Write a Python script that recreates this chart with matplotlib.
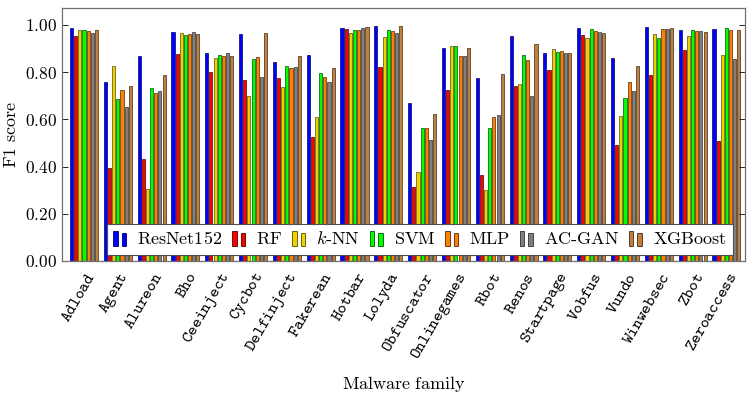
import numpy as np
import matplotlib
matplotlib.use('Agg')
import matplotlib.pyplot as plt
from matplotlib.patches import Rectangle
from matplotlib.legend_handler import HandlerBase
from matplotlib.ticker import FuncFormatter, MultipleLocator

plt.rcParams['mathtext.fontset'] = 'cm'
plt.rcParams['font.family'] = ['DejaVu Serif']

families = ['Adload', 'Agent', 'Alureon', 'Bho', 'Ceeinject', 'Cycbot', 'Delfinject',
            'Fakerean', 'Hotbar', 'Lolyda', 'Obfuscator', 'Onlinegames', 'Rbot', 'Renos',
            'Startpage', 'Vobfus', 'Vundo', 'Winwebsec', 'Zbot', 'Zeroaccess']

resnet = [0.985, 0.760, 0.869, 0.969, 0.880, 0.963, 0.843, 0.874, 0.985, 0.996,
          0.668, 0.904, 0.774, 0.952, 0.883, 0.987, 0.859, 0.992, 0.979, 0.983]
rf = [0.953, 0.393, 0.434, 0.877, 0.801, 0.767, 0.773, 0.525, 0.983, 0.821,
      0.314, 0.725, 0.363, 0.743, 0.809, 0.959, 0.490, 0.788, 0.893, 0.507]
knn = [0.979, 0.828, 0.304, 0.967, 0.860, 0.699, 0.738, 0.612, 0.965, 0.950,
       0.376, 0.910, 0.300, 0.749, 0.898, 0.946, 0.614, 0.961, 0.952, 0.874]
svm = [0.979, 0.688, 0.734, 0.956, 0.871, 0.855, 0.828, 0.797, 0.980, 0.977,
       0.564, 0.910, 0.564, 0.873, 0.884, 0.982, 0.692, 0.944, 0.977, 0.986]
mlp = [0.975, 0.725, 0.712, 0.961, 0.867, 0.864, 0.818, 0.780, 0.980, 0.975,
       0.564, 0.870, 0.610, 0.852, 0.890, 0.976, 0.758, 0.983, 0.975, 0.980]
acgan = [0.965, 0.653, 0.722, 0.970, 0.881, 0.778, 0.821, 0.757, 0.986, 0.966,
         0.513, 0.869, 0.619, 0.698, 0.883, 0.970, 0.719, 0.983, 0.973, 0.855]
xgb = [0.979, 0.740, 0.787, 0.961, 0.867, 0.967, 0.867, 0.818, 0.992, 0.997,
       0.624, 0.904, 0.792, 0.921, 0.880, 0.965, 0.826, 0.985, 0.969, 0.980]

models = [r'$\mathrm{ResNet152}$', r'$\mathrm{RF}$', r'$k\mathrm{\text{-}NN}$', r'$\mathrm{SVM}$',
          r'$\mathrm{MLP}$', r'$\mathrm{AC\text{-}GAN}$', r'$\mathrm{XGBoost}$']
series = [resnet, rf, knn, svm, mlp, acgan, xgb]
colors = ['#0000ff', '#ff0000', '#f2d000', '#00ff00', '#ff8000', '#808080', '#bf8040']
edges = ['#000060', '#500000', '#505000', '#005000', '#502800', '#303030', '#402810']


class TwoBars(HandlerBase):
    # pgfplots style ybar legend image: two small bars
    def create_artists(self, legend, orig_handle, xdescent, ydescent,
                       width, height, fontsize, trans):
        fc = orig_handle.get_facecolor()
        ec = orig_handle.get_edgecolor()
        bw = width * 0.34
        r1 = Rectangle((-xdescent, -ydescent - height * 0.15), bw, height * 1.25,
                       facecolor=fc, edgecolor=ec, lw=0.6, transform=trans)
        r2 = Rectangle((-xdescent + width * 0.64, -ydescent - height * 0.15), bw, height * 1.05,
                       facecolor=fc, edgecolor=ec, lw=0.6, transform=trans)
        return [r1, r2]


fig = plt.figure(figsize=(7.49, 3.96), dpi=100)
ax = fig.add_axes([0.0828, 0.341, 0.9119, 0.639])

x = np.arange(len(families))
step = 0.123
width = 0.092
handles = []
for i, vals in enumerate(series):
    b = ax.bar(x + (i - 3) * step, vals, width, color=colors[i], edgecolor=edges[i],
               linewidth=0.5, label=models[i])
    handles.append(b.patches[0])

ax.set_xlim(-0.65, 19.55)
ax.set_ylim(0, 1.072)
ax.yaxis.set_major_locator(MultipleLocator(0.2))
ax.yaxis.set_major_formatter(FuncFormatter(lambda v, p: r'$%.2f$' % v))
ax.set_xticks(x)
ax.set_xticklabels([r'$\mathtt{%s}$' % f for f in families], rotation=60,
                   ha='right', va='top', rotation_mode='anchor', fontsize=12)
ax.tick_params(axis='y', direction='in', right=True, length=4, labelsize=12.5, width=0.6)
ax.tick_params(axis='x', length=0, pad=6)
for s in ax.spines.values():
    s.set_color('#707070')
    s.set_linewidth(0.9)

ax.set_ylabel(r'$\mathrm{F1\ score}$', fontsize=13)
ax.set_xlabel(r'$\mathrm{Malware\ family}$', fontsize=13, labelpad=8)

leg = ax.legend(handles, models, loc='center', bbox_to_anchor=(0.524, 0.085), ncol=7,
                fontsize=13, handler_map={h: TwoBars() for h in handles},
                frameon=True, fancybox=False, framealpha=1, edgecolor='#505050',
                handlelength=0.72, handletextpad=0.6, columnspacing=0.55,
                borderpad=0.35, borderaxespad=0)
leg.get_frame().set_linewidth(0.8)

fig.savefig('out.png', dpi=100)
